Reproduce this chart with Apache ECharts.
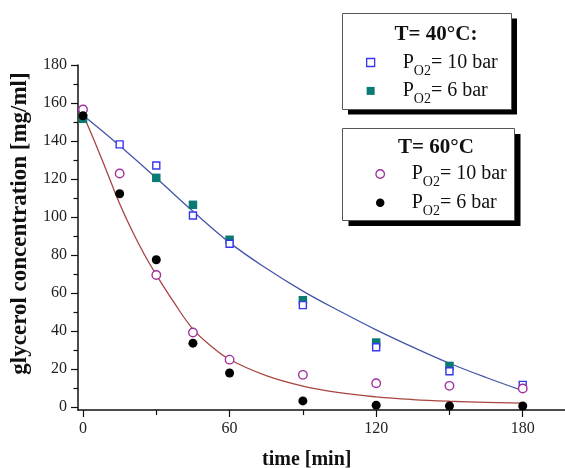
<!DOCTYPE html>
<html>
<head>
<meta charset="utf-8">
<script src="https://cdn.jsdelivr.net/npm/echarts@6/dist/echarts.min.js"></script>
<style>html,body{margin:0;padding:0;background:#fff}#c{width:565px;height:468px}</style>
</head>
<body>
<div id="c"></div>
<script>
// ---- data ----
const times = [0, 15, 30, 45, 60, 90, 120, 150, 180];
const t40_p10 = [null, 138.2, 127.1, 100.8, 85.9, 53.6, 31.4, 18.8, 11.6];
const t40_p6  = [151.7, null, 120.6, 106.4, 88.0, 56.2, 33.9, 21.6, null];
const t60_p10 = [156.6, 122.9, 69.5, 39.2, 24.9, 16.9, 12.5, 11.1, 9.7];
const t60_p6  = [153.3, 112.2, 77.5, 33.6, 17.9, 3.2, 0.9, 0.5, 0.5];

// fitted curves
const fit40T = [0, 15, 30, 45, 60, 75, 90, 105, 120, 135, 150, 165, 180];
const fit40V = [153.5, 137.5, 120.5, 103, 86.5, 73, 61, 50.5, 40.6, 31.5, 23, 15.5, 8.6];
const fit60T = [0, 5, 10, 15, 20, 25, 30, 37.5, 45, 52.5, 60, 75, 90, 105, 120, 135, 150, 165, 180];
const fit60V = [154, 139, 123, 107, 93, 80.5, 69.5, 54.5, 41, 32, 25, 16.5, 11, 7.5, 5.3, 3.9, 3.0, 2.4, 2.0];

const xMajor = [0, 60, 120, 180];
const xMinor = [30, 90, 150];
const yMajor = [0, 20, 40, 60, 80, 100, 120, 140, 160, 180];
const yMinor = [10, 30, 50, 70, 90, 110, 130, 150, 170];

const axisNameX = 'time [min]';
const axisNameY = 'glycerol concentration [mg/ml]';
const group1Title = 'T= 40°C:';
const group2Title = 'T= 60°C';
const legendLabels = {
  's40_10': ['P', 'O2', '= 10 bar'],
  's40_6':  ['P', 'O2', '= 6 bar'],
  's60_10': ['P', 'O2', '= 10 bar'],
  's60_6':  ['P', 'O2', '= 6 bar']
};

const FONT = '"Liberation Serif", "Times New Roman", serif';
const pairs = (xs, ys) => xs.map((x, i) => [x, ys[i]]).filter(p => p[1] !== null);

const chart = echarts.init(document.getElementById('c'), null, {renderer: 'canvas'});

const XMIN = -2.05, XMAX = 197.5, YMIN = -1.6, YMAX = 180;

function richLegend(sp) {
  return {
    formatter: n => '{sp|}{p|' + legendLabels[n][0] + '}{s|' + legendLabels[n][1] + '}{p|' + legendLabels[n][2] + '}',
    textStyle: {
      rich: {
        sp: {width: sp},
        p: {fontSize: 20, fontFamily: FONT, color: '#111', lineHeight: 22},
        s: {fontSize: 14, fontFamily: FONT, color: '#111', lineHeight: 14, padding: [17, 0, 0, 0]}
      }
    }
  };
}

const option = {
  animation: false,
  backgroundColor: '#fff',
  grid: {left: 78, top: 65, width: 487.5, height: 345, containLabel: false, outerBoundsMode: 'none'},
  xAxis: [
    {
      type: 'value', min: XMIN, max: XMAX, position: 'bottom',
      axisLine: {show: true, onZero: false, lineStyle: {color: '#111', width: 1.5}},
      axisTick: {show: true, length: 7, customValues: xMajor, lineStyle: {color: '#111', width: 1.2}},
      axisLabel: {show: true, customValues: xMajor, margin: 11, fontSize: 16, fontFamily: FONT, color: '#222'},
      splitLine: {show: false},
      name: axisNameX, nameLocation: 'middle', nameGap: 40,
      nameTextStyle: {fontSize: 20, fontWeight: 'bold', fontFamily: FONT, color: '#111', padding: [0, 30, 0, 0]}
    },
    {
      type: 'value', min: XMIN, max: XMAX, position: 'bottom',
      axisLine: {show: false, onZero: false},
      axisTick: {show: true, length: 5, customValues: xMinor, lineStyle: {color: '#111', width: 1.2}},
      axisLabel: {show: false},
      splitLine: {show: false}
    }
  ],
  yAxis: [
    {
      type: 'value', min: YMIN, max: YMAX, position: 'left',
      axisLine: {show: true, onZero: false, lineStyle: {color: '#111', width: 1.5}},
      axisTick: {show: true, length: 7, customValues: yMajor, lineStyle: {color: '#111', width: 1.2}},
      axisLabel: {show: true, customValues: yMajor, margin: 11, fontSize: 16, fontFamily: FONT, color: '#222'},
      splitLine: {show: false},
      name: axisNameY, nameLocation: 'middle', nameGap: 46, nameRotate: 90,
      nameTextStyle: {fontSize: 23, fontWeight: 'bold', fontFamily: FONT, color: '#111', padding: [0, 0, 0, 28]}
    },
    {
      type: 'value', min: YMIN, max: YMAX, position: 'left',
      axisLine: {show: false, onZero: false},
      axisTick: {show: true, length: 4.5, customValues: yMinor, lineStyle: {color: '#111', width: 1.2}},
      axisLabel: {show: false},
      splitLine: {show: false}
    }
  ],
  legend: [
    Object.assign({
      data: ['s40_10', 's40_6'], orient: 'vertical', left: 366, top: 47,
      itemWidth: 8, itemHeight: 8, itemGap: -2.6, z: 10, padding: 0,
      itemStyle: {borderWidth: 1.3, opacity: 1}
    }, richLegend(23)),
    Object.assign({
      data: ['s60_10', 's60_6'], orient: 'vertical', left: 375.3, top: 158.5,
      itemWidth: 8.5, itemHeight: 8.5, itemGap: -2.3, z: 10, padding: 0,
      itemStyle: {borderWidth: 1.3, opacity: 1}
    }, richLegend(22.2))
  ],
  graphic: [
    {type: 'rect', z: 1, shape: {x: 348, y: 18.5, width: 169, height: 96}, style: {fill: '#000'}},
    {type: 'rect', z: 2, shape: {x: 342.5, y: 13.5, width: 169, height: 96}, style: {fill: '#fff', stroke: '#555', lineWidth: 1}},
    {type: 'text', z: 3, x: 436, y: 34.5, style: {text: group1Title, font: 'bold 21px ' + FONT, fill: '#111', textAlign: 'center', textVerticalAlign: 'middle'}},
    {type: 'rect', z: 1, shape: {x: 348.5, y: 134, width: 172, height: 92}, style: {fill: '#000'}},
    {type: 'rect', z: 2, shape: {x: 342.5, y: 128.5, width: 172, height: 92}, style: {fill: '#fff', stroke: '#555', lineWidth: 1}},
    {type: 'text', z: 3, x: 436, y: 148, style: {text: group2Title, font: 'bold 21px ' + FONT, fill: '#111', textAlign: 'center', textVerticalAlign: 'middle'}}
  ],
  series: [
    {type: 'line', name: 'fit40', data: pairs(fit40T, fit40V), smooth: 0.4, showSymbol: false, symbol: 'none',
     lineStyle: {color: '#4654a8', width: 1.3}, z: 2, silent: true},
    {type: 'line', name: 'fit60', data: pairs(fit60T, fit60V), smooth: 0.4, showSymbol: false, symbol: 'none',
     lineStyle: {color: '#a8453f', width: 1.3}, z: 2, silent: true},
    {type: 'scatter', name: 's40_6', data: pairs(times, t40_p6), symbol: 'rect', symbolSize: 8.5,
     itemStyle: {color: '#0b7a75', opacity: 1}, z: 3},
    {type: 'scatter', name: 's40_10', data: pairs(times, t40_p10), symbol: 'rect', symbolSize: 7,
     itemStyle: {color: '#ffffff', borderColor: '#3636ee', borderWidth: 1.4, opacity: 1}, z: 4},
    {type: 'scatter', name: 's60_10', data: pairs(times, t60_p10), symbol: 'circle', symbolSize: 8.5,
     itemStyle: {color: '#ffffff', borderColor: '#a0309c', borderWidth: 1.4, opacity: 1}, z: 5},
    {type: 'scatter', name: 's60_6', data: pairs(times, t60_p6), symbol: 'circle', symbolSize: 9,
     itemStyle: {color: '#000000', opacity: 1}, z: 6}
  ]
};
chart.setOption(option);
</script>
</body>
</html>
